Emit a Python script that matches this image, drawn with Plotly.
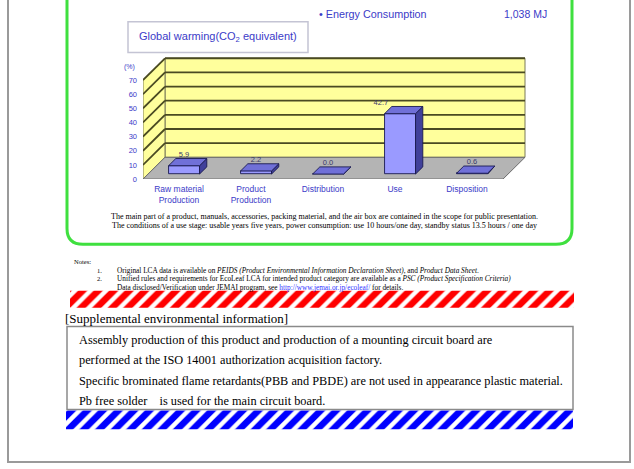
import plotly.graph_objects as go

# ---------------- data ----------------
categories = ["Raw material<br>Production", "Product<br>Production", "Distribution", "Use", "Disposition"]
values = [5.9, 2.2, 0.0, 42.7, 0.6]
value_labels = ["5.9", "2.2", "0.0", "42.7", "0.6"]
y_ticks = [0, 10, 20, 30, 40, 50, 60, 70]
y_unit = "(%)"
chart_title = "Global warming(CO<sub>2</sub> equivalent)"
energy_label = "• Energy Consumption"
energy_value = "1,038 MJ"

scope_notes = [
    "The main part of a product, manuals, accessories, packing material, and the air box are contained in the scope for public presentation.",
    "The conditions of a use stage: usable years five years, power consumption: use 10 hours/one day, standby status 13.5 hours / one day",
]
notes_head = "Notes:"
notes = [
    ("1.", "Original LCA data is available on <i>PEIDS (Product Environmental Information Declaration Sheet)</i>, and <i>Product Data Sheet</i>."),
    ("2.", "Unified rules and requirements for EcoLeaf LCA for intended product category are available as a <i>PSC (Product Specification Criteria)</i>"),
    ("", "Data disclosed/Verification under JEMAI program, see <span style='color:#3333ff'>http://www.jemai.or.jp/ecoleaf/</span> for details."),
]
supp_head = "[Supplemental environmental information]"
supp_lines = [
    "Assembly production of this product and production of a mounting circuit board are",
    "performed at the ISO 14001 authorization acquisition factory.",
    "Specific brominated flame retardants(PBB and PBDE) are not used in appearance plastic material.",
    "Pb free solder    is used for the main circuit board.",
]

# ---------------- geometry ----------------
W, H = 634, 469
PX_LEFT = 143      # front-left floor corner (x)
PX_BASE = 181      # front floor edge (value 0)
PX_PER_CAT = 72
PX_PER_VAL = 1.43
DEPTH_PX = 22
VMAX = max(y_ticks)

DX = DEPTH_PX / PX_PER_CAT
DY = DEPTH_PX / PX_PER_VAL
XR = [-0.5, len(categories) - 0.5 + DX + 0.05]
YR = [0, VMAX + DY + 1.5]
dom_x = [PX_LEFT / W, (PX_LEFT + (XR[1] - XR[0]) * PX_PER_CAT) / W]
dom_y = [(H - PX_BASE) / H, (H - PX_BASE + (YR[1] - YR[0]) * PX_PER_VAL) / H]

BAR_W = 0.43
D_FRONT, D_BACK = 0.23, 0.56
xoff = D_FRONT * DX
b0 = D_FRONT * DY
dxb = (D_BACK - D_FRONT) * DX
dyb = (D_BACK - D_FRONT) * DY

BLUE_TXT = "#3b3bc8"
SANS = "Liberation Sans, Arial, sans-serif"
SERIF = "Liberation Serif, Times New Roman, serif"

fig = go.Figure()

# ---- bar front faces ----
xs = [i + xoff for i in range(len(values))]
fig.add_trace(go.Bar(
    x=xs, y=values, base=[b0] * len(values), width=BAR_W,
    marker=dict(color="#9a9aff", line=dict(color="#1a1a50", width=0.9)),
    hoverinfo="skip", showlegend=False, xaxis="x", yaxis="y"))

# ---- bar side & top faces (computed from values) ----
sx, sy, tx, ty = [], [], [], []
for x, v in zip(xs, values):
    x0, x1 = x - BAR_W / 2, x + BAR_W / 2
    top = b0 + v
    sx += [x1, x1 + dxb, x1 + dxb, x1, x1, None]
    sy += [b0, b0 + dyb, top + dyb, top, b0, None]
    tx += [x0, x1, x1 + dxb, x0 + dxb, x0, None]
    ty += [top, top, top + dyb, top + dyb, top, None]
fig.add_trace(go.Scatter(x=sx, y=sy, fill="toself", fillcolor="#40409a", mode="lines",
                         line=dict(color="#1a1a50", width=0.9), hoverinfo="skip", showlegend=False))
fig.add_trace(go.Scatter(x=tx, y=ty, fill="toself", fillcolor="#7070d8", mode="lines",
                         line=dict(color="#1a1a50", width=0.9), hoverinfo="skip", showlegend=False))

# ---- value labels ----
lab_pos = ["top center", "top center", "top center", "top left", "top center"]
lab_x = [x if p == "top center" else x - BAR_W / 2 + 0.05 for x, p in zip(xs, lab_pos)]
fig.add_trace(go.Scatter(
    x=lab_x, y=[b0 + v + dyb for v in values], mode="text", text=value_labels,
    textposition=lab_pos, textfont=dict(family=SANS, size=7.5, color="#3a3a6a"),
    hoverinfo="skip", showlegend=False))

# ---- walls, floor, gridlines (decoration shapes below the bars) ----
xl, xr = -0.5, len(categories) - 0.5
shapes = []
shapes.append(dict(type="path", xref="x", yref="y", layer="below",
                   path=f"M {xl+DX},{DY} L {xr+DX},{DY} L {xr+DX},{VMAX+DY} L {xl+DX},{VMAX+DY} Z",
                   fillcolor="#ffff9c", line=dict(color="#7a7a5a", width=1)))
shapes.append(dict(type="path", xref="x", yref="y", layer="below",
                   path=f"M {xl},0 L {xl},{VMAX} L {xl+DX},{VMAX+DY} L {xl+DX},{DY} Z",
                   fillcolor="#ffff9c", line=dict(color="#7a7a5a", width=1)))
shapes.append(dict(type="path", xref="x", yref="y", layer="below",
                   path=f"M {xl},0 L {xr},0 L {xr+DX},{DY} L {xl+DX},{DY} Z",
                   fillcolor="#b4b4b4", line=dict(color="#6a6a6a", width=1)))
for v in y_ticks[1:]:
    shapes.append(dict(type="line", xref="x", yref="y", layer="below",
                       x0=xl, y0=v, x1=xl + DX, y1=v + DY, line=dict(color="#4a4a22", width=1.8)))
    shapes.append(dict(type="line", xref="x", yref="y", layer="below",
                       x0=xl + DX, y0=v + DY, x1=xr + DX, y1=v + DY, line=dict(color="#4a4a22", width=1.8)))

# ---- document decorations in pixel space (canvas axes x2/y2) ----
def rect(x0, y0, x1, y1, **kw):
    d = dict(type="rect", xref="x2", yref="y2", x0=x0, y0=y0, x1=x1, y1=y1)
    d.update(kw)
    return d

# page border
shapes.append(dict(type="path", xref="x2", yref="y2", path="M 8,-2 L 8,467 L 630,467 L 630,-2",
                   line=dict(color="#9a9a9a", width=2)))
# green rounded frame
shapes.append(dict(type="path", xref="x2", yref="y2",
                   path="M 67,-5 L 67,231 Q 67,247 83,247 L 556,247 Q 572,247 572,231 L 572,-5",
                   line=dict(color="#3fe03f", width=3)))
# title box
shapes.append(rect(128, 22, 308, 53, fillcolor="white", line=dict(color="#c4c4d4", width=1.5)))
# supplemental box
shapes.append(rect(67, 330, 573, 414, fillcolor="rgba(0,0,0,0)", line=dict(color="#8a8a8a", width=1.5)))

# striped bands
for (x0, y0, x1, y1, col) in [(70, 294, 574, 311, "#ff0000"), (66, 415, 573, 434, "#0000ff")]:
    fig.add_trace(go.Scatter(x=[x0, x1, x1, x0, x0], y=[y0, y0, y1, y1, y0], xaxis="x2", yaxis="y2",
                             fill="toself", mode="lines", line=dict(width=0, color="white"),
                             fillcolor="white",
                             fillpattern=dict(shape="/", fgcolor=col, bgcolor="white", fgopacity=1,
                                              fillmode="replace", size=11, solidity=0.6),
                             hoverinfo="skip", showlegend=False))

ann = []
def txt(x, y, s, size, color="black", family=SERIF, xanchor="left"):
    ann.append(dict(x=x, y=y, xref="x2", yref="y2", text=s, showarrow=False, xanchor=xanchor,
                    yanchor="middle", font=dict(family=family, size=size, color=color)))

txt(218, 37.5, chart_title, 11, BLUE_TXT, SANS, "center")
txt(317, 14, energy_label, 10.8, BLUE_TXT, SANS)
txt(549, 14, energy_value, 10.5, BLUE_TXT, SANS, "right")
txt(137, 68, y_unit, 7, BLUE_TXT, SANS, "right")
txt(324, 219, scope_notes[0], 8, "black", SERIF, "center")
txt(324, 228, scope_notes[1], 8, "black", SERIF, "center")
txt(72, 264, notes_head, 6.5, "black", SERIF)
for k, (num, line) in enumerate(notes):
    if num:
        txt(95, 273 + 9 * k, num, 6.5, "black", SERIF)
    txt(115, 273 + 9 * k, line, 7.3, "black", SERIF)
txt(63, 322, supp_head, 13, "black", SERIF)
for k, line in enumerate(supp_lines):
    txt(77, 344 + 20.3 * k, line, 12.3, "black", SERIF)

fig.update_layout(
    width=W, height=H, margin=dict(l=0, r=0, t=0, b=0),
    paper_bgcolor="white", plot_bgcolor="rgba(0,0,0,0)",
    showlegend=False, bargap=0, shapes=shapes, annotations=ann,
    xaxis=dict(domain=dom_x, range=XR, tickvals=list(range(len(categories))), ticktext=categories,
               showgrid=False, zeroline=False, showline=False, ticks="", ticklabelstandoff=3,
               tickfont=dict(family=SANS, size=8.5, color=BLUE_TXT), fixedrange=True),
    yaxis=dict(domain=dom_y, range=YR, tickvals=y_ticks, showgrid=False, zeroline=False,
               showline=False, ticks="", ticklabelstandoff=5,
               tickfont=dict(family=SANS, size=7.5, color=BLUE_TXT), fixedrange=True),
    xaxis2=dict(domain=[0, 1], range=[0, W], visible=False, anchor="y2", fixedrange=True),
    yaxis2=dict(domain=[0, 1], range=[H, 0], visible=False, anchor="x2", fixedrange=True),
)

fig.write_html("out.html")
